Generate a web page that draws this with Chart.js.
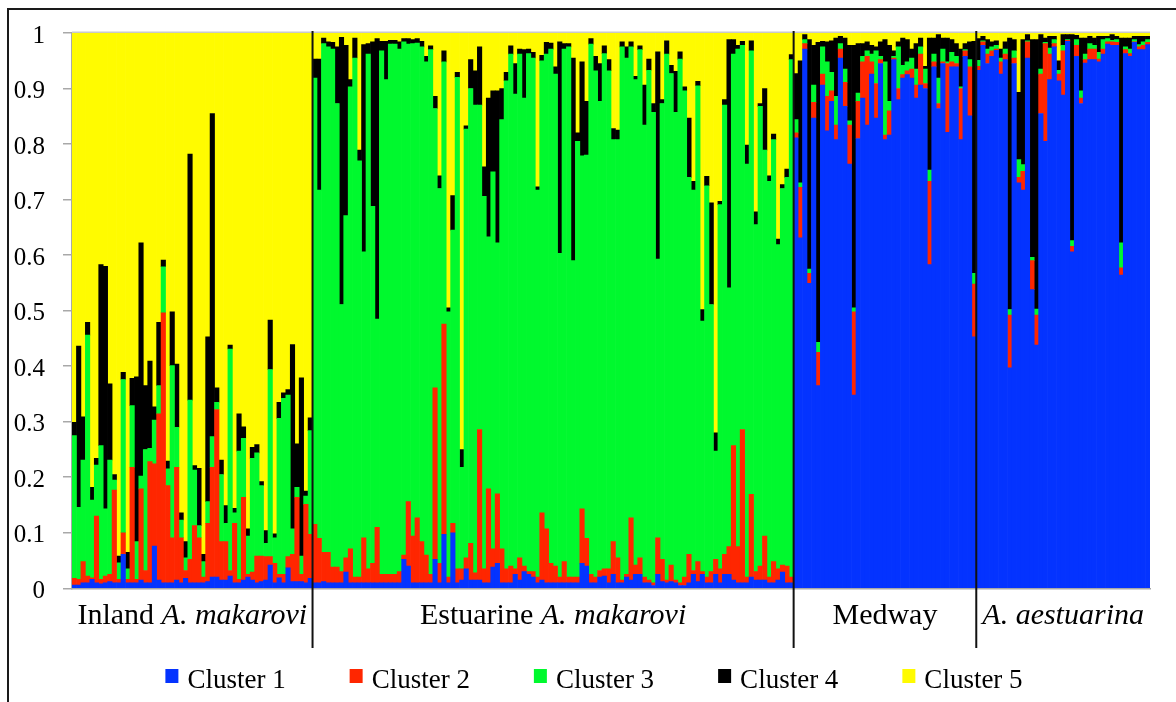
<!DOCTYPE html>
<html>
<head>
<meta charset="utf-8">
<script src="https://cdn.jsdelivr.net/npm/chart.js@4.4.1/dist/chart.umd.min.js"></script>
<style>
  html, body { margin: 0; padding: 0; background: #ffffff; }
  #wrap { position: relative; width: 1176px; height: 702px; overflow: hidden; }
  #frame { position: absolute; left: 7px; top: 8px; width: 2000px; height: 2000px;
           border-top: 2px solid #1a1a1a; border-left: 2px solid #1a1a1a; }
  #chart { position: absolute; left: 0; top: 0; }
</style>
</head>
<body>
<div id="wrap">
  <div id="frame"></div>
  <canvas id="chart" width="1176" height="702"></canvas>
</div>
<script>
// Population groups (individuals are ordered by group along the x axis)
const groupNames = [
  [{ t: 'Inland ', i: false }, { t: 'A. makarovi', i: true }],
  [{ t: 'Estuarine ', i: false }, { t: 'A. makarovi', i: true }],
  [{ t: 'Medway', i: false }],
  [{ t: 'A. aestuarina', i: true }]
];
const groupSizes = [54, 108, 41, 39];

const clusterNames = ['Cluster 1', 'Cluster 2', 'Cluster 3', 'Cluster 4', 'Cluster 5'];
const clusterColors = ['#0433ff', '#ff2600', '#00f92e', '#000000', '#fffb00'];

const yTicks = [0, 0.1, 0.2, 0.3, 0.4, 0.5, 0.6, 0.7, 0.8, 0.9, 1];

// Membership proportions per individual (Inland | Estuarine | Medway | A. aestuarina)
const cluster1 = [
  .006,.006,.010,.010,.016,.010,.008,.010,.012,.010,.010,.061,.010,.010,.010,.015,.010,.010,.076,.015,
  .010,.010,.010,.015,.010,.018,.010,.010,.010,.010,.012,.020,.020,.015,.015,.022,.010,.010,.015,.020,
  .015,.010,.012,.015,.042,.010,.019,.010,.037,.012,.012,.012,.010,.018,
  .010,.010,.012,.010,.010,.010,.010,.029,.010,.010,.010,.010,.010,.010,.010,.010,.010,.010,.010,.010,
  .052,.040,.010,.010,.010,.010,.010,.052,.010,.097,.010,.100,.010,.015,.035,.015,.015,.015,.010,.010,
  .038,.045,.010,.010,.010,.025,.015,.030,.025,.020,.010,.015,.010,.010,.010,.010,.010,.010,.010,.010,
  .045,.040,.010,.010,.020,.022,.010,.025,.010,.010,.020,.015,.025,.025,.010,.010,.005,.025,.012,.010,
  .012,.010,.005,.005,.010,.025,.012,.025,.010,.010,.025,.010,.025,.025,.015,.010,.010,.010,.020,.015,
  .015,.015,.010,.010,.015,.029,.010,.010,
  .811,.631,.971,.549,.847,.365,.906,.824,.877,.808,.955,.868,.764,.348,.810,.883,.834,.926,.847,.945,
  .808,.816,.952,.880,.919,.925,.919,.883,.906,.900,.583,.939,.864,.945,.821,.939,.939,.808,.958,.851,
  .453,
  .933,.978,.945,.958,.969,.926,.952,.397,.945,.730,.717,.955,.538,.438,.855,.805,.916,.975,.914,.888,
  .985,.606,.958,.873,.946,.952,.952,.948,.962,.980,.978,.978,.564,.963,.958,.983,.970,.970,.979
];
const cluster2 = [
  .012,.010,.038,.012,.003,.120,.008,.012,.013,.167,.006,.039,.006,.208,.006,.164,.022,.218,.148,.299,
  .486,.175,.081,.203,.081,.014,.042,.103,.081,.010,.105,.198,.302,.069,.069,.010,.107,.006,.149,.005,
  .014,.048,.046,.042,.015,.035,.006,.015,.020,.049,.152,.013,.141,.079,
  .105,.080,.053,.055,.028,.028,.020,.026,.061,.010,.010,.081,.025,.035,.100,.015,.015,.015,.015,.020,
  .008,.116,.084,.117,.074,.050,.015,.309,.035,.379,.010,.017,.025,.020,.020,.066,.013,.271,.025,.169,
  .033,.125,.061,.025,.030,.010,.040,.010,.005,.010,.010,.121,.097,.035,.030,.010,.038,.010,.010,.010,
  .098,.050,.015,.010,.012,.013,.025,.059,.045,.005,.005,.112,.017,.030,.010,.005,.005,.066,.040,.005,
  .030,.005,.005,.015,.051,.007,.036,.005,.010,.020,.027,.025,.036,.050,.242,.065,.276,.010,.149,.015,
  .025,.079,.010,.038,.020,.013,.030,.010,
  .009,.091,.010,.018,.028,.060,.020,.062,.019,.026,.016,.043,.070,.150,.067,.065,.124,.022,.062,.007,
  .008,.044,.003,.020,.006,.007,.016,.023,.056,.009,.150,.009,.009,.003,.124,.009,.006,.092,.010,.088,
  .095,
  .007,.006,.017,.010,.002,.022,.010,.095,.010,.010,.034,.029,.052,.054,.071,.176,.046,.006,.012,.080,
  .002,.010,.020,.010,.006,.019,.019,.005,.009,.004,.006,.005,.013,.007,.005,.001,.005,.008,.004
];
const cluster3 = [
  .257,.130,.183,.434,.140,.092,.241,.121,.206,.018,.030,.276,.019,.111,.068,.023,.218,.024,.079,.051,
  .083,.030,.310,.072,.032,.023,.287,.100,.022,.028,.039,.055,.013,.121,.033,.399,.019,.231,.106,.069,
  .205,.186,.127,.024,.337,.046,.281,.317,.291,.046,.018,.033,.015,.187,
  .804,.627,.916,.910,.933,.835,.481,.616,.832,.935,.750,.515,.927,.643,.375,.943,.891,.955,.955,.941,
  .924,.824,.887,.855,.891,.888,.945,.503,.675,.472,.478,.528,.885,.183,.772,.819,.842,.584,.671,.454,
  .679,.452,.773,.879,.922,.855,.907,.843,.933,.925,.697,.814,.855,.926,.886,.583,.923,.955,.570,.785,
  .636,.690,.955,.912,.845,.928,.897,.724,.753,.960,.930,.848,.874,.915,.814,.918,.847,.502,.821,.947,
  .885,.842,.943,.876,.679,.685,.857,.451,.705,.481,.195,.656,.809,.466,.705,.896,.692,.744,.799,.625,
  .828,.695,.713,.760,.584,.678,.700,.932,
  .024,.008,.007,.008,.031,.018,.049,.062,.033,.052,.010,.024,.008,.007,.015,.010,.010,.014,.059,.006,
  .132,.017,.003,.075,.017,.016,.020,.029,.013,.026,.020,.014,.046,.023,.003,.017,.013,.003,.002,.013,
  .019,
  .011,.002,.009,.007,.007,.007,.009,.010,.013,.032,.012,.002,.006,.011,.009,.002,.011,.007,.007,.010,
  .001,.010,.010,.013,.010,.010,.007,.012,.017,.006,.003,.005,.045,.005,.008,.004,.004,.006,.005
];
const cluster4 = [
  .024,.290,.078,.023,.023,.012,.326,.437,.137,.010,.012,.013,.030,.049,.297,.420,.115,.157,.024,.114,
  .012,.014,.097,.114,.013,.029,.443,.008,.103,.013,.297,.582,.026,.026,.032,.007,.008,.067,.021,.013,
  .020,.015,.007,.023,.089,.007,.029,.010,.010,.332,.078,.321,.009,.023,
  .034,.236,.010,.009,.012,.102,.481,.307,.013,.036,.019,.373,.019,.296,.505,.017,.069,.007,.007,.013,
  .006,.010,.007,.008,.010,.010,.007,.022,.023,.020,.007,.062,.009,.032,.006,.052,.062,.105,.053,.250,
  .146,.274,.056,.015,.015,.055,.009,.087,.008,.010,.006,.010,.021,.011,.013,.381,.010,.006,.365,.015,
  .169,.097,.010,.026,.068,.014,.020,.020,.017,.009,.020,.009,.006,.007,.072,.020,.016,.373,.007,.024,
  .015,.074,.013,.007,.107,.016,.008,.021,.017,.183,.033,.006,.010,.447,.026,.007,.007,.034,.018,.023,
  .005,.111,.010,.010,.010,.007,.015,.009,
  .083,.220,.009,.413,.072,.540,.010,.036,.057,.105,.013,.056,.136,.473,.089,.023,.016,.016,.007,.026,
  .040,.101,.010,.009,.049,.040,.016,.046,.016,.005,.238,.029,.078,.020,.043,.023,.023,.068,.011,.032,
  .418,
  .039,.008,.017,.009,.008,.016,.013,.489,.020,.121,.225,.011,.392,.485,.062,.008,.021,.006,.017,.019,
  .009,.371,.008,.095,.029,.013,.013,.029,.006,.004,.010,.006,.369,.016,.020,.006,.015,.010,.006
];
const cluster5 = [
  .701,.564,.691,.521,.818,.766,.417,.420,.632,.795,.942,.611,.935,.622,.619,.378,.635,.591,.673,.521,
  .409,.771,.502,.596,.864,.916,.218,.779,.784,.939,.547,.145,.639,.769,.851,.562,.856,.686,.709,.893,
  .746,.741,.808,.896,.517,.902,.665,.648,.642,.561,.740,.621,.825,.693,
  .047,.047,.009,.016,.017,.025,.008,.022,.084,.009,.211,.021,.019,.016,.010,.015,.015,.013,.013,.016,
  .010,.010,.012,.010,.015,.042,.023,.114,.257,.032,.495,.293,.071,.750,.167,.048,.068,.025,.241,.117,
  .104,.104,.100,.071,.023,.055,.029,.030,.029,.035,.277,.040,.017,.018,.061,.016,.019,.019,.045,.180,
  .052,.123,.010,.042,.055,.023,.048,.172,.175,.016,.025,.016,.078,.023,.094,.047,.127,.034,.120,.014,
  .058,.069,.034,.097,.153,.267,.087,.498,.258,.306,.720,.303,.120,.012,.012,.022,.015,.202,.014,.322,
  .127,.100,.257,.182,.371,.273,.245,.039,
  .073,.050,.003,.012,.022,.017,.015,.016,.014,.009,.006,.009,.022,.022,.019,.019,.016,.022,.025,.016,
  .012,.022,.032,.016,.009,.012,.029,.019,.009,.060,.009,.009,.003,.009,.009,.012,.019,.029,.019,.016,
  .015,
  .010,.006,.012,.016,.014,.029,.016,.009,.012,.107,.012,.003,.012,.012,.003,.009,.006,.006,.050,.003,
  .003,.003,.004,.009,.009,.006,.009,.006,.006,.006,.003,.006,.009,.009,.009,.006,.006,.006,.006
];

const clusterValues = [cluster1, cluster2, cluster3, cluster4, cluster5];

// One category per individual, tagged with its group
const groupTags = ['Inland', 'Estuarine', 'Medway', 'aestuarina'];
const labels = [];
groupSizes.forEach((n, g) => { for (let k = 1; k <= n; k++) labels.push(groupTags[g] + ' ' + k); });

const SERIF = '"Liberation Serif", "Times New Roman", serif';

const overlay = {
  id: 'overlay',
  afterDatasetsDraw(chart) {
    const { ctx, chartArea, scales: { x } } = chart;
    ctx.save();
    // light frame line along the top of the plot
    ctx.strokeStyle = '#c9c9c9';
    ctx.lineWidth = 1.5;
    ctx.beginPath();
    ctx.moveTo(chartArea.left, chartArea.top - 0.8);
    ctx.lineTo(chartArea.right, chartArea.top - 0.8);
    ctx.stroke();

    const step = x.getPixelForValue(1) - x.getPixelForValue(0);
    let start = 0;
    groupSizes.forEach((n, gi) => {
      const left = x.getPixelForValue(start) - step / 2;
      const right = x.getPixelForValue(start + n - 1) + step / 2;
      if (gi > 0) {
        ctx.strokeStyle = '#111111';
        ctx.lineWidth = 2;
        ctx.beginPath();
        ctx.moveTo(left, chartArea.top - 2);
        ctx.lineTo(left, 648);
        ctx.stroke();
      }
      // group label, with the species name in italics
      const parts = groupNames[gi];
      const fonts = parts.map(p => (p.i ? 'italic ' : '') + '30px ' + SERIF);
      let total = 0;
      const widths = parts.map((p, k) => { ctx.font = fonts[k]; const w = ctx.measureText(p.t).width; total += w; return w; });
      let tx = (left + right) / 2 - total / 2;
      ctx.fillStyle = '#000000';
      ctx.textBaseline = 'alphabetic';
      ctx.textAlign = 'left';
      parts.forEach((p, k) => { ctx.font = fonts[k]; ctx.fillText(p.t, tx, 624); tx += widths[k]; });
      start += n;
    });
    ctx.restore();
  },
  afterDraw(chart) {
    const { ctx } = chart;
    ctx.save();
    ctx.font = '27px ' + SERIF;
    const boxW = 13, boxH = 14, boxGap = 9, itemGap = 64;
    const items = chart.data.datasets.map(d => ({ label: d.label, color: d.backgroundColor, w: ctx.measureText(d.label).width }));
    const total = items.reduce((s, it) => s + boxW + boxGap + it.w, 0) + itemGap * (items.length - 1);
    let lx = 594 - total / 2;
    items.forEach(it => {
      ctx.fillStyle = it.color;
      ctx.fillRect(lx, 669, boxW, boxH);
      ctx.fillStyle = '#000000';
      ctx.textBaseline = 'alphabetic';
      ctx.fillText(it.label, lx + boxW + boxGap, 688);
      lx += boxW + boxGap + it.w + itemGap;
    });
    ctx.restore();
  }
};

new Chart(document.getElementById('chart'), {
  type: 'bar',
  data: {
    labels,
    datasets: clusterNames.map((name, k) => ({
      label: name,
      data: clusterValues[k],
      backgroundColor: clusterColors[k],
      borderWidth: 0,
      barPercentage: 1,
      categoryPercentage: 1
    }))
  },
  options: {
    responsive: false,
    animation: false,
    devicePixelRatio: 1,
    events: [],
    layout: { padding: { left: 0, right: 26, top: 30.7, bottom: 0 } },
    plugins: { legend: { display: false }, tooltip: { enabled: false } },
    scales: {
      x: {
        stacked: true,
        ticks: { display: false },
        grid: { display: false },
        border: { display: true, color: '#a8a8a8', width: 1.5 },
        afterFit(scale) { scale.height = 702 - 588.3; }
      },
      y: {
        stacked: true,
        min: 0,
        max: 1,
        afterBuildTicks(scale) { scale.ticks = yTicks.map(v => ({ value: v })); },
        ticks: {
          color: '#000000',
          font: { family: SERIF, size: 25 },
          padding: 18,
          labelOffset: 3,
          callback: v => String(Math.round(v * 10) / 10)
        },
        grid: { drawOnChartArea: false, drawTicks: true, tickLength: 9, color: '#a8a8a8', lineWidth: 1.5 },
        border: { display: true, color: '#a8a8a8', width: 1.5 },
        afterFit(scale) { scale.width = 72; }
      }
    }
  },
  plugins: [overlay]
});
</script>
</body>
</html>
